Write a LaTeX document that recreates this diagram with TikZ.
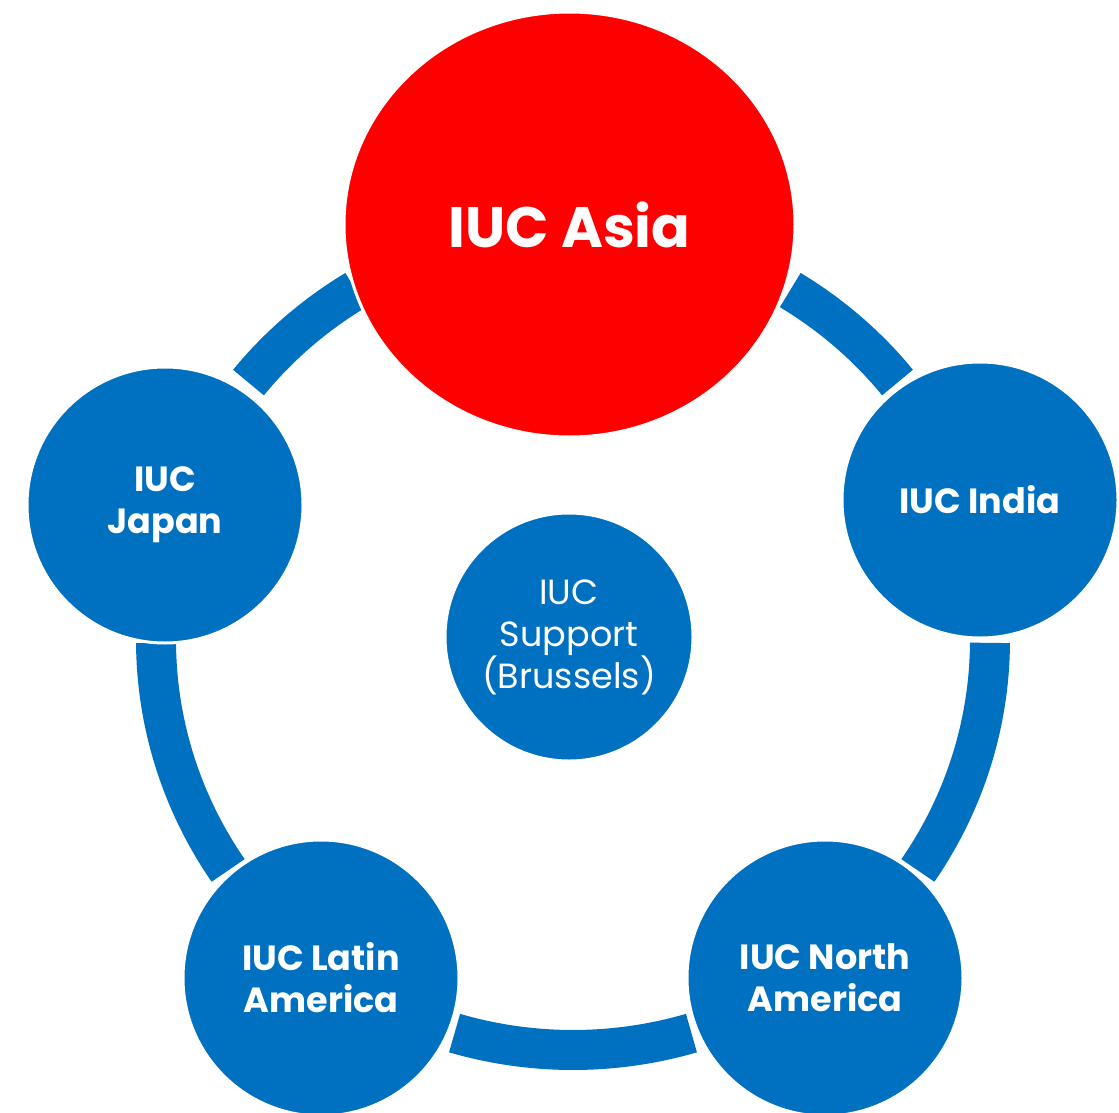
\documentclass[tikz,border=0pt]{standalone}
\usepackage{fontspec}
\setmainfont{Poppins}
\usetikzlibrary{shapes.geometric,calc}
\definecolor{iucblue}{HTML}{0070C0}
\definecolor{iucred}{HTML}{FF0000}
\tikzset{
  ringband/.style={draw=iucblue,line width=40pt,line cap=butt},
  bubble/.style={circle,fill=iucblue,draw=white,line width=3pt,minimum size=276pt,inner sep=0pt,align=center,text=white,font=\fontsize{35}{42}\selectfont\bfseries},
  hub/.style={circle,fill=iucblue,draw=white,line width=3pt,minimum size=248pt,inner sep=0pt,align=center,text=white,font=\fontsize{35}{42}\selectfont},
  focus/.style={ellipse,fill=iucred,draw=white,line width=3pt,minimum width=451pt,minimum height=425pt,inner sep=0pt,align=center,text=white,font=\fontsize{57}{66}\selectfont\bfseries}
}
\begin{document}
\begin{tikzpicture}[x=1pt,y=-1pt]
\useasboundingbox[fill=white] (0,0) rectangle (1119,1113);
\coordinate (ringc) at (573,640);
% ring segments
\draw[ringband] ($(ringc)+(-58.6:417 and 410)$) arc[start angle=-58.6,end angle=-38.9,x radius=417,y radius=410];
\draw[ringband] ($(ringc)+(0.4:417 and 410)$) arc[start angle=0.4,end angle=34.2,x radius=417,y radius=410];
\draw[ringband] ($(ringc)+(73.5:417 and 410)$) arc[start angle=73.5,end angle=106.5,x radius=417,y radius=410];
\draw[ringband] ($(ringc)+(145.8:417 and 410)$) arc[start angle=145.8,end angle=179.6,x radius=417,y radius=410];
\draw[ringband] ($(ringc)+(-141.1:417 and 410)$) arc[start angle=-141.1,end angle=-121.4,x radius=417,y radius=410];
% nodes
\node[focus] (asia) at (569.5,224.5) {IUC Asia};
\node[bubble] (india) at (980,500) {IUC India};
\node[bubble] (japan) at (165,505) {IUC\\Japan};
\node[bubble] (latin) at (321,978) {IUC Latin\\America};
\node[bubble] (north) at (825,978) {IUC North\\America};
\node[hub] (support) at (569,637) {IUC\\Support\\(Brussels)};
\end{tikzpicture}
\end{document}
